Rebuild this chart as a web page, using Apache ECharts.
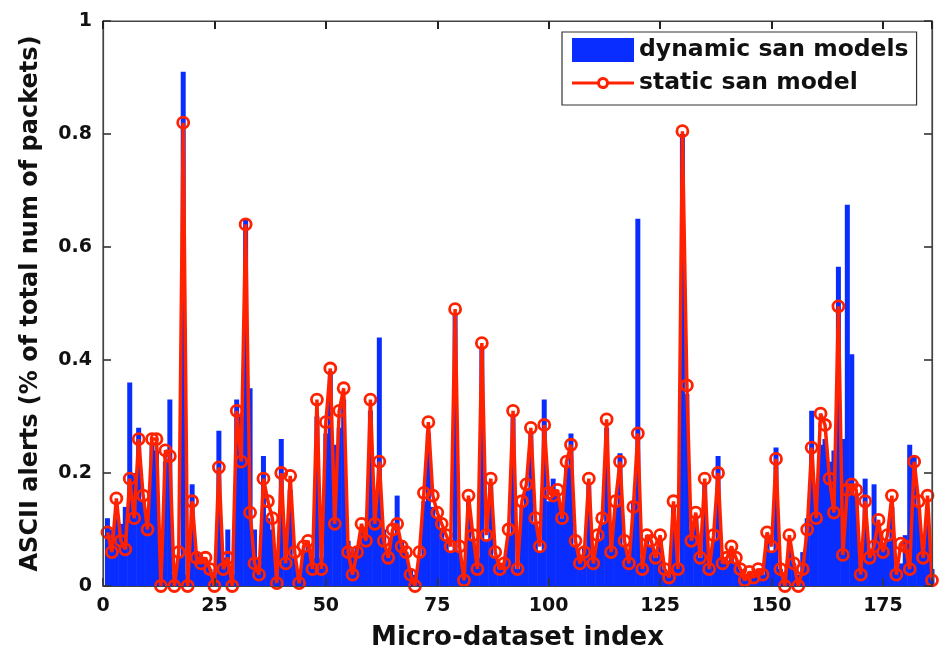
<!DOCTYPE html>
<html>
<head>
<meta charset="utf-8">
<script src="https://cdn.jsdelivr.net/npm/echarts@6/dist/echarts.min.js"></script>
<style>
html,body{margin:0;padding:0;background:#fff;}
#chart{width:944px;height:657px;}
</style>
</head>
<body>
<div id="chart"></div>
<script>
// Micro-dataset indices 1..186
var staticSan = [
0.095,0.06,0.155,0.08,0.065,0.19,0.12,0.26,0.16,0.10,
0.26,0.26,0.0,0.24,0.23,0.0,0.06,0.82,0.0,0.15,
0.05,0.04,0.05,0.03,0.0,0.21,0.03,0.05,0.0,0.31,
0.22,0.64,0.13,0.04,0.02,0.19,0.15,0.12,0.005,0.2,
0.04,0.195,0.06,0.005,0.07,0.08,0.03,0.33,0.03,0.29,
0.385,0.11,0.31,0.35,0.06,0.02,0.06,0.11,0.08,0.33,
0.11,0.22,0.08,0.05,0.10,0.11,0.07,0.06,0.02,0.0,
0.06,0.165,0.29,0.16,0.13,0.11,0.09,0.07,0.49,0.07,
0.01,0.16,0.09,0.03,0.43,0.09,0.19,0.06,0.03,0.04,
0.10,0.31,0.03,0.15,0.18,0.28,0.12,0.07,0.285,0.165,
0.16,0.17,0.12,0.22,0.25,0.08,0.04,0.06,0.19,0.04,
0.09,0.12,0.295,0.06,0.15,0.22,0.08,0.04,0.14,0.27,
0.03,0.09,0.08,0.05,0.09,0.03,0.015,0.15,0.03,0.805,
0.355,0.08,0.13,0.05,0.19,0.03,0.09,0.20,0.04,0.05,
0.07,0.05,0.03,0.01,0.025,0.015,0.03,0.02,0.095,0.07,
0.225,0.03,0.0,0.09,0.04,0.0,0.03,0.10,0.245,0.12,
0.305,0.285,0.19,0.13,0.495,0.055,0.17,0.18,0.17,0.02,
0.15,0.05,0.07,0.117,0.06,0.09,0.16,0.02,0.075,0.07,
0.03,0.22,0.15,0.05,0.16,0.01
];
var dynamicSan = [
0.12,0.10,0.12,0.11,0.14,0.36,0.20,0.28,0.15,0.13,
0.25,0.24,0.03,0.22,0.33,0.02,0.05,0.91,0.02,0.18,
0.06,0.05,0.04,0.03,0.02,0.275,0.05,0.10,0.02,0.33,
0.30,0.65,0.35,0.10,0.05,0.23,0.12,0.10,0.03,0.26,
0.05,0.17,0.05,0.02,0.06,0.07,0.05,0.30,0.05,0.27,
0.38,0.25,0.28,0.33,0.08,0.06,0.07,0.10,0.09,0.31,
0.12,0.44,0.10,0.06,0.09,0.16,0.08,0.06,0.03,0.02,
0.05,0.15,0.27,0.14,0.12,0.10,0.08,0.06,0.48,0.06,
0.02,0.15,0.08,0.05,0.42,0.08,0.18,0.05,0.03,0.04,
0.09,0.30,0.03,0.14,0.17,0.27,0.11,0.06,0.33,0.15,
0.19,0.16,0.12,0.21,0.27,0.07,0.05,0.07,0.18,0.05,
0.08,0.11,0.28,0.07,0.14,0.235,0.07,0.05,0.15,0.65,
0.05,0.08,0.07,0.05,0.08,0.03,0.02,0.14,0.04,0.80,
0.34,0.10,0.12,0.05,0.18,0.04,0.08,0.23,0.05,0.04,
0.06,0.04,0.03,0.02,0.02,0.02,0.03,0.02,0.09,0.06,
0.245,0.03,0.02,0.08,0.04,0.02,0.06,0.12,0.31,0.16,
0.25,0.26,0.22,0.24,0.565,0.26,0.675,0.41,0.16,0.05,
0.19,0.06,0.18,0.10,0.07,0.08,0.14,0.03,0.04,0.09,
0.25,0.23,0.14,0.07,0.13,0.03
];
var xTicks = [0,25,50,75,100,125,150,175];
var yTicks = [0,0.2,0.4,0.6,0.8,1];

var barData = dynamicSan.map(function(v,i){return [i+1,v];});
var lineData = staticSan.map(function(v,i){return [i+1,v];});

var chart = echarts.init(document.getElementById('chart'));
var axisColor = '#444';
var font = 'DejaVu Sans, sans-serif';
var red = '#ff2200';
var blue = '#0a2dff';
var lineIcon = 'path://M0 10.5 H25.19 A6 6 0 0 1 36.81 10.5 H62 V13.5 H36.81 A6 6 0 0 1 25.19 13.5 H0 Z M34 12 A3 3 0 1 0 28 12 A3 3 0 1 0 34 12 Z';
var tickStyle = {color:'#333',width:1.6};
var option = {
  backgroundColor:'#fff',
  animation:false,
  grid:{left:103,right:12,top:21,bottom:71,containLabel:false,
    show:true,borderColor:axisColor,borderWidth:1.2,backgroundColor:'transparent'},
  legend:{
    orient:'vertical',
    left:562, top:32,
    padding:[6,8,10,10],
    itemGap:9,
    itemWidth:62,
    itemHeight:24,
    borderColor:'#333',
    borderWidth:1.2,
    backgroundColor:'#fff',
    z:10,
    textStyle:{fontFamily:font,fontSize:23.5,fontWeight:'bold',color:'#111'},
    data:[
      {name:'dynamic san models',icon:'rect',itemStyle:{color:blue}},
      {name:'static san model',icon:lineIcon,itemStyle:{color:red,borderWidth:0}}
    ]
  },
  xAxis:[{
    type:'value',min:0,max:186,interval:25,
    position:'bottom',
    name:'Micro-dataset index',nameLocation:'middle',nameGap:39,
    nameTextStyle:{fontFamily:font,fontSize:26,fontWeight:'bold',color:'#111'},
    axisLine:{onZero:false,lineStyle:{color:axisColor,width:1.2}},
    axisTick:{show:true,inside:true,length:8,lineStyle:tickStyle},
    axisLabel:{fontFamily:font,fontSize:19,fontWeight:'bold',color:'#111',margin:11,
      formatter:function(v){return v%25===0?String(v):'';}},
    splitLine:{show:false},
    z:5
  },{
    type:'value',min:0,max:186,interval:25,position:'top',
    axisLine:{show:true,onZero:false,lineStyle:{color:axisColor,width:1.2}},
    axisTick:{show:true,inside:true,length:8,lineStyle:{color:'#222',width:2}},
    axisLabel:{show:false},splitLine:{show:false},
    z:5
  }],
  yAxis:[{
    type:'value',min:0,max:1,interval:0.2,position:'left',
    name:'ASCII alerts (% of total num of packets)',nameLocation:'middle',nameGap:60,
    nameTextStyle:{fontFamily:font,fontSize:24,fontWeight:'bold',color:'#111'},
    axisLine:{show:true,onZero:false,lineStyle:{color:axisColor,width:1.2}},
    axisTick:{show:true,inside:true,length:8,lineStyle:tickStyle},
    axisLabel:{fontFamily:font,fontSize:19,fontWeight:'bold',color:'#111',margin:11,
      formatter:function(v){return String(+v.toFixed(1));}},
    splitLine:{show:false},
    z:5
  },{
    type:'value',min:0,max:1,interval:0.2,position:'right',
    axisLine:{show:true,onZero:false,lineStyle:{color:axisColor,width:1.2}},
    axisTick:{show:true,inside:true,length:8,lineStyle:tickStyle},
    axisLabel:{show:false},splitLine:{show:false},
    z:5
  }],
  series:[{
    name:'dynamic san models',type:'bar',
    xAxisIndex:0,yAxisIndex:0,
    data:barData,
    barWidth:5,
    itemStyle:{color:blue},
    z:2
  },{
    name:'static san model',type:'line',
    xAxisIndex:1,yAxisIndex:1,
    data:lineData,
    symbol:'circle',symbolSize:11,showAllSymbol:true,
    lineStyle:{color:red,width:3.5},
    itemStyle:{color:'rgba(255,255,255,0)',borderColor:red,borderWidth:2.8},
    z:3
  }]
};
chart.setOption(option);
</script>
</body>
</html>
